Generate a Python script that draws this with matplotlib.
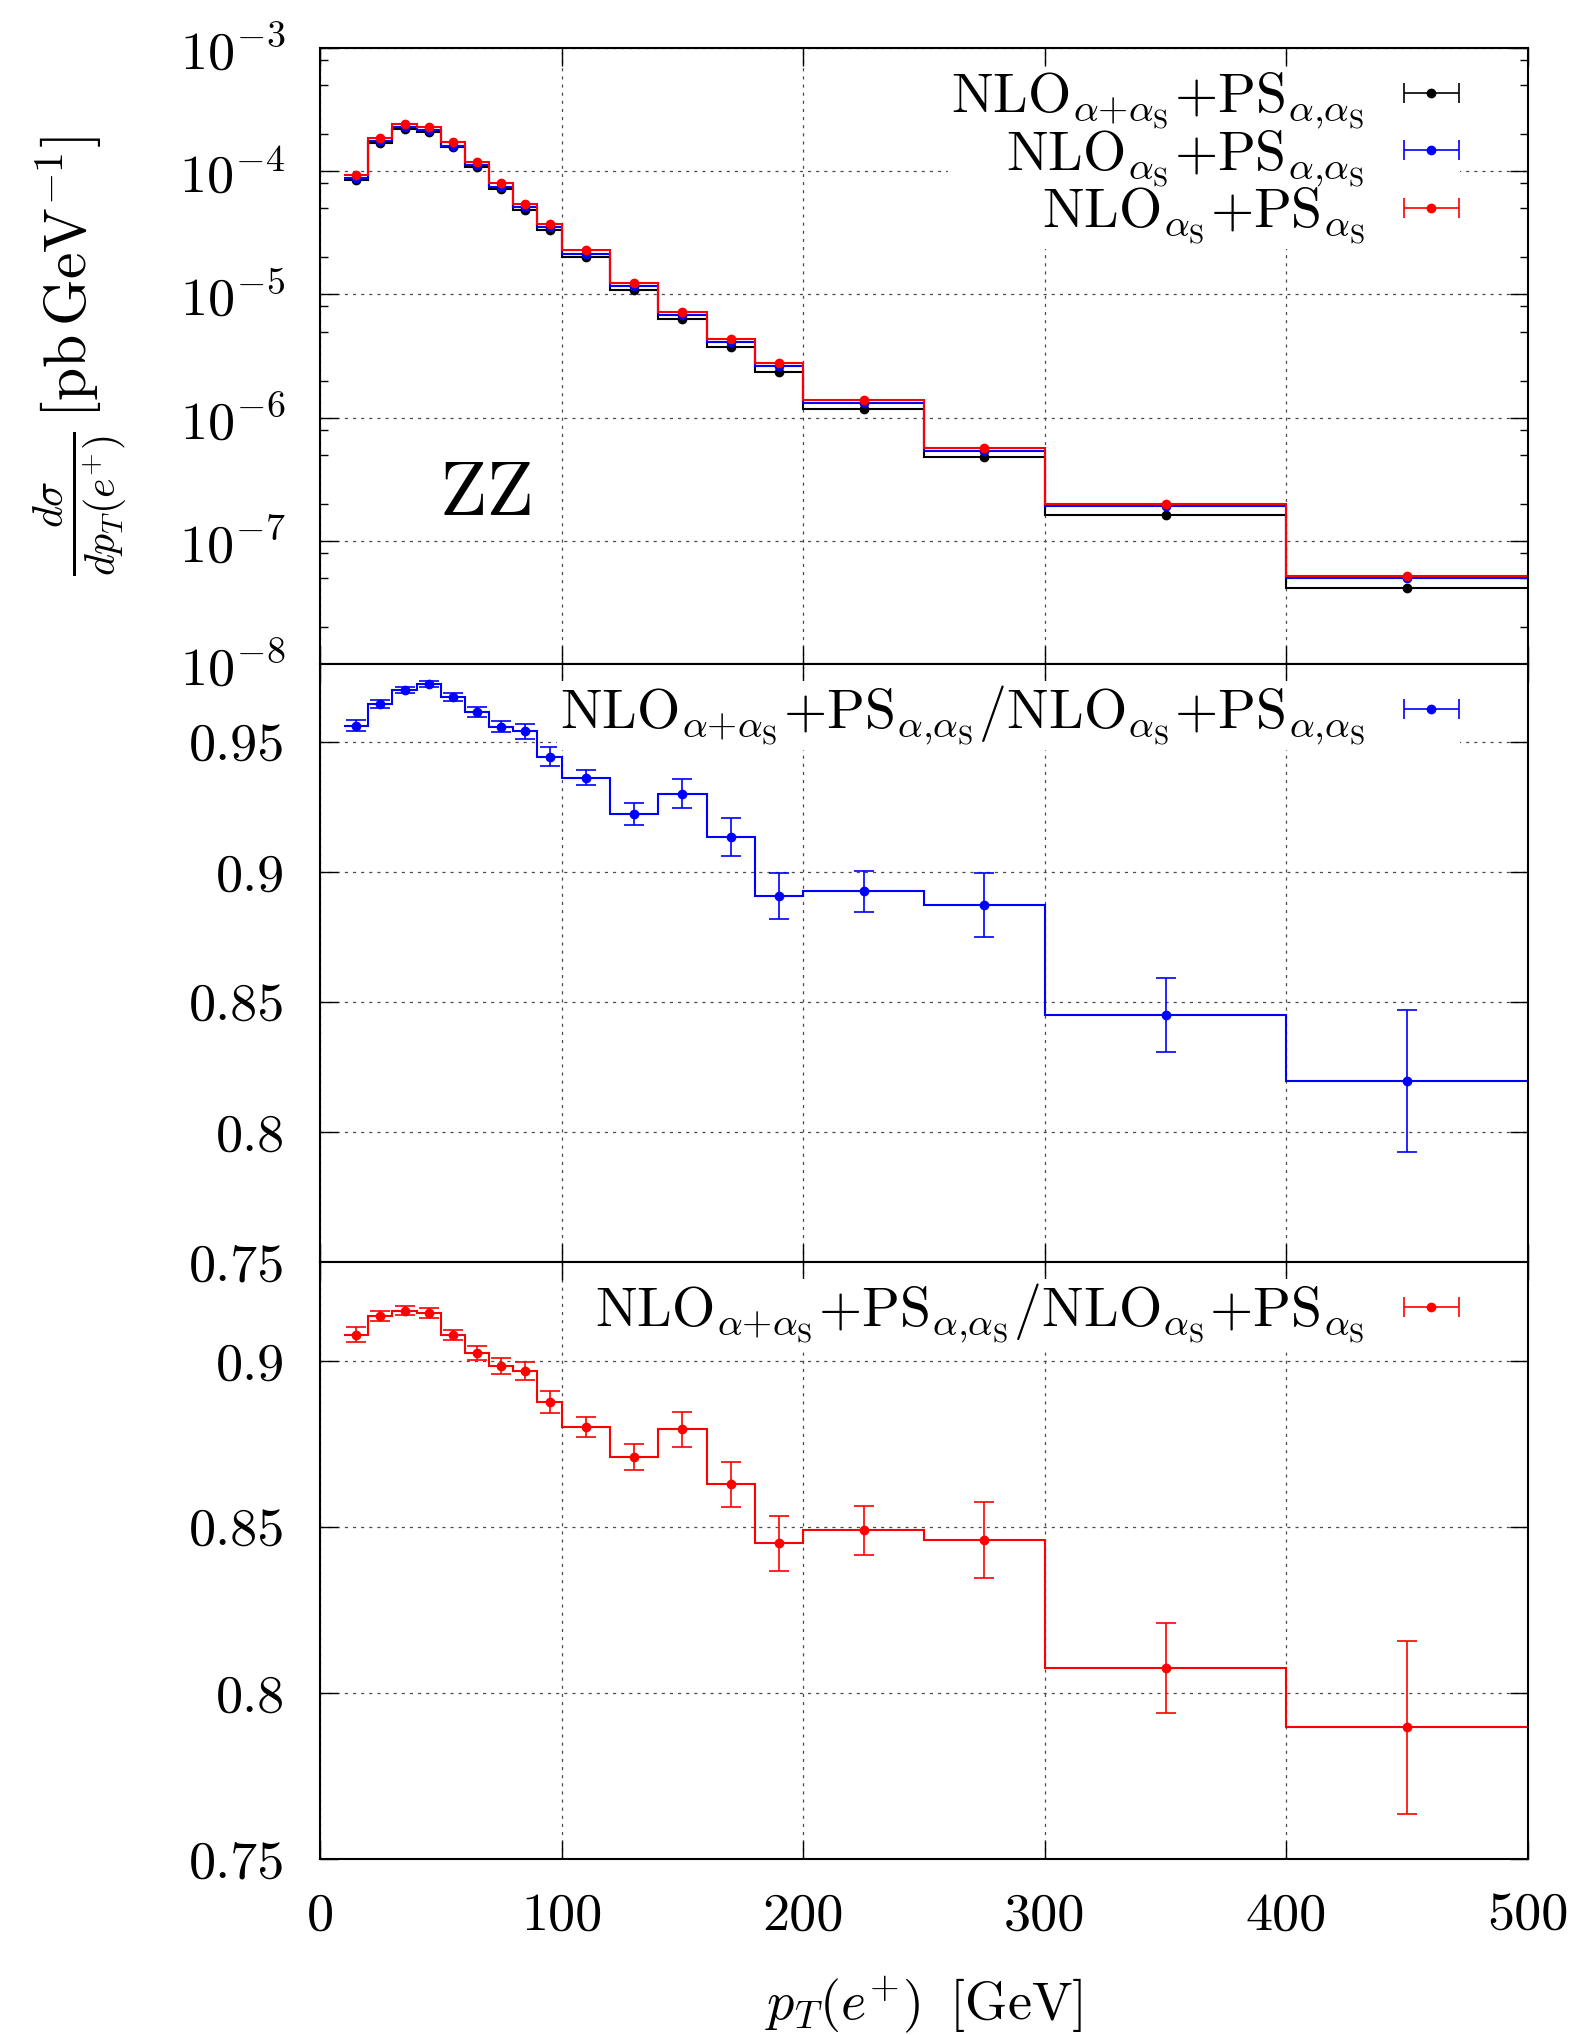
import matplotlib
matplotlib.use("Agg")
import matplotlib.pyplot as plt
from matplotlib.ticker import LogLocator, MultipleLocator, FuncFormatter, NullLocator
import numpy as np

plt.rcParams['font.family'] = 'serif'
plt.rcParams['font.serif'] = ['cmr10']
plt.rcParams['mathtext.fontset'] = 'cm'
plt.rcParams['axes.formatter.use_mathtext'] = True

# pT(e+) binning [GeV]
edges = [10, 20, 30, 40, 50, 60, 70, 80, 90, 100, 120, 140, 160, 180, 200, 250, 300, 400, 500]
centers = [15, 25, 35, 45, 55, 65, 75, 85, 95, 110, 130, 150, 170, 190, 225, 275, 350, 450]

# d sigma / d pT(e+) [pb/GeV]
xs_nlo_ew_ps_ew = [8.43e-5, 1.709e-4, 2.214e-4, 2.086e-4, 1.562e-4, 1.074e-4, 7.14e-5, 4.88e-5, 3.32e-5,
                   2.007e-5, 1.080e-5, 6.29e-6, 3.745e-6, 2.341e-6, 1.172e-6, 4.79e-7, 1.607e-7, 4.11e-8]
xs_nlo_qcd_ps_ew = [8.82e-5, 1.772e-4, 2.282e-4, 2.146e-4, 1.615e-4, 1.117e-4, 7.47e-5, 5.11e-5, 3.52e-5,
                    2.144e-5, 1.171e-5, 6.76e-6, 4.10e-6, 2.628e-6, 1.313e-6, 5.40e-7, 1.902e-7, 5.02e-8]
xs_nlo_qcd_ps_qcd = [9.28e-5, 1.87e-4, 2.42e-4, 2.28e-4, 1.72e-4, 1.19e-4, 7.95e-5, 5.44e-5, 3.74e-5,
                     2.28e-5, 1.24e-5, 7.15e-6, 4.34e-6, 2.77e-6, 1.38e-6, 5.66e-7, 1.99e-7, 5.21e-8]

# ratios
ratio_blue = [0.9562, 0.9646, 0.9701, 0.9722, 0.9674, 0.9616, 0.9559, 0.9541, 0.9444,
              0.9363, 0.9222, 0.9301, 0.9135, 0.8908, 0.8925, 0.8873, 0.8449, 0.8195]
err_blue = [0.0021, 0.0015, 0.0012, 0.0012, 0.0015, 0.0018, 0.0020, 0.0030, 0.0036,
            0.0030, 0.0043, 0.0055, 0.0072, 0.0088, 0.0078, 0.0123, 0.0143, 0.0273]
ratio_red = [0.9081, 0.9137, 0.9153, 0.9146, 0.9080, 0.9025, 0.8986, 0.8971, 0.8877,
             0.8802, 0.8712, 0.8796, 0.8629, 0.8452, 0.8491, 0.8461, 0.8075, 0.7897]
err_red = [0.0023, 0.0015, 0.0013, 0.0014, 0.0016, 0.0020, 0.0023, 0.0028, 0.0033,
           0.0030, 0.0040, 0.0053, 0.0067, 0.0083, 0.0074, 0.0115, 0.0135, 0.0260]

lab_black = r'\mathrm{NLO}_{\alpha{+}\alpha_{\mathrm{S}}}{+}\mathrm{PS}_{\alpha{,}\alpha_{\mathrm{S}}}'
lab_blue = r'\mathrm{NLO}_{\alpha_{\mathrm{S}}}{+}\mathrm{PS}_{\alpha{,}\alpha_{\mathrm{S}}}'
lab_red = r'\mathrm{NLO}_{\alpha_{\mathrm{S}}}{+}\mathrm{PS}_{\alpha_{\mathrm{S}}}'

BLUE = '#0000ff'
RED = '#ff0000'
FS = 39

fig = plt.figure(figsize=(15.71, 20.35), dpi=100)
ax1 = fig.add_axes([0.2037, 0.6737, 0.7689, 0.3027])
ax2 = fig.add_axes([0.2037, 0.3799, 0.7689, 0.2938], sharex=ax1)
ax3 = fig.add_axes([0.2037, 0.0865, 0.7689, 0.2934], sharex=ax1)

pt_style = dict(fmt='o', ms=6, capsize=7, elinewidth=1.2, capthick=1.2)
leg_style = dict(loc='upper right', borderaxespad=0, borderpad=0.05, markerfirst=False,
                 handlelength=0.92, handletextpad=0.74, fontsize=40,
                 frameon=True, fancybox=False, edgecolor='none', facecolor='white', framealpha=1)

# --- top panel: distributions
handles = []
for vals, col, lab in [(xs_nlo_ew_ps_ew, 'black', lab_black),
                       (xs_nlo_qcd_ps_ew, BLUE, lab_blue),
                       (xs_nlo_qcd_ps_qcd, RED, lab_red)]:
    ax1.stairs(vals, edges, color=col, lw=1.5, baseline=None)
    ax1.errorbar(centers, vals, color=col, **pt_style)
    h = ax1.errorbar([np.nan], [np.nan], xerr=[1], color=col, **pt_style)
    handles.append((h, '$' + lab + '$'))
ax1.set_yscale('log')
ax1.set_ylim(1e-8, 1e-3)
ax1.legend([h for h, _ in handles], [l for _, l in handles], bbox_to_anchor=(0.9435, 0.968),
           labelspacing=-0.06, **leg_style)
ax1.text(0.138, 0.276, 'ZZ', transform=ax1.transAxes, fontsize=56, ha='center', va='center')
ax1.set_ylabel(r'$\frac{d\sigma}{dp_T(e^{{+}})}\,[\mathrm{pb}\,\mathrm{GeV}^{-1}]$', fontsize=43)
ax1.yaxis.set_label_coords(-0.157, 0.5)
ax1.yaxis.set_major_locator(LogLocator(base=10, numticks=10))
ax1.yaxis.set_minor_locator(LogLocator(base=10, subs=[2, 5, 8], numticks=100))

# --- ratio panels
for ax, r, e, col, lab in [(ax2, ratio_blue, err_blue, BLUE, lab_black + '/' + lab_blue),
                           (ax3, ratio_red, err_red, RED, lab_black + '/' + lab_red)]:
    ax.stairs(r, edges, color=col, lw=1.5, baseline=None)
    ax.errorbar(centers, r, yerr=e, color=col, **pt_style)
    h = ax.errorbar([np.nan], [np.nan], xerr=[1], color=col, **pt_style)
    ax.legend([h], ['$' + lab + '$'], bbox_to_anchor=(0.9435, 0.972), labelspacing=0.15, **leg_style)
    ax.yaxis.set_major_locator(MultipleLocator(0.05))
    ax.yaxis.set_major_formatter(FuncFormatter(lambda v, p: '%g' % round(v, 3)))
    ax.yaxis.set_minor_locator(NullLocator())
ax2.set_ylim(0.75, 0.98)
ax3.set_ylim(0.75, 0.93)

ax1.set_xlim(0, 500)
ax3.xaxis.set_major_locator(MultipleLocator(100))
ax3.xaxis.set_minor_locator(NullLocator())
ax3.xaxis.set_major_formatter(FuncFormatter(lambda v, p: '%g' % v))
ax3.set_xlabel(r'$p_T(e^{{+}})\;\;[\mathrm{GeV}]$', fontsize=FS, labelpad=25)

for ax in (ax1, ax2, ax3):
    ax.grid(True, which='major', linestyle=(0, (2.5, 4)), color='0.3', linewidth=0.9)
    ax.set_axisbelow(True)
    ax.tick_params(which='both', direction='in', top=True, right=True, labelsize=FS, width=1.0)
    ax.tick_params(which='major', length=13)
    ax.tick_params(which='minor', length=6)
    ax.tick_params(axis='y', pad=25)
    ax.tick_params(axis='x', pad=24)
    for sp in ax.spines.values():
        sp.set_linewidth(1.5)
ax1.tick_params(labelbottom=False)
ax2.tick_params(labelbottom=False)

fig.savefig('out.png', dpi=100)
